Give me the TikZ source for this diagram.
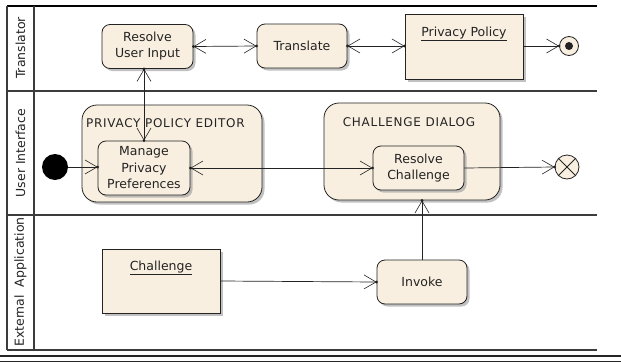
\documentclass[tikz,border=0pt]{standalone}
\usepackage{fontspec}
\setmainfont{DejaVu Sans}
\newfontfamily\capsfont[LetterSpace=6]{DejaVu Sans}
\usetikzlibrary{arrows.meta,shadows,calc}
\definecolor{umlfill}{RGB}{248,239,224}
\definecolor{umlline}{RGB}{35,35,35}
\definecolor{lanegray}{RGB}{60,60,60}
\begin{document}
\begin{tikzpicture}[x=1pt,y=-1pt,
  font=\fontsize{12.5}{16}\selectfont,
  every node/.style={text=umlline},
  shade/.style={drop shadow={shadow xshift=2.5pt,shadow yshift=-2.5pt,fill=black!35,opacity=0.7}},
  action/.style={draw=umlline,line width=0.8pt,fill=umlfill,rounded corners=8pt,
    shade,align=center,inner sep=0pt,minimum width=91pt,minimum height=44pt},
  container/.style={draw=umlline,line width=0.8pt,fill=umlfill,rounded corners=15pt,
    shade,inner sep=0pt},
  objbox/.style={draw=umlline,line width=0.8pt,fill=umlfill,shade,inner sep=0pt,
    minimum width=118pt,minimum height=64pt},
  lane/.style={draw=lanegray,line width=1.3pt},
  lanelabel/.style={rotate=90,inner sep=0pt},
  flow/.style={draw=umlline,line width=0.7pt,
    -{Straight Barb[length=12pt,width=14pt,line width=0.6pt]}},
  bflow/.style={draw=umlline,line width=0.7pt,
    {Straight Barb[length=12pt,width=14pt,line width=0.6pt]}-{Straight Barb[length=12pt,width=14pt,line width=0.6pt]}},
  tipdot/.style={fill=umlline}
]
\useasboundingbox (0,0) rectangle (621,362);

% swimlane frame
\draw[draw=black,line width=1.5pt] (7,6) -- (597,6);
\draw[lane] (7,6) -- (7,350);
\draw[lane] (34,6) -- (34,350);
\draw[lane] (7,91) -- (597,91);
\draw[lane] (7,215) -- (597,215);
\draw[lane] (7,350) -- (597,350);
\draw[draw=black!85,line width=2.5pt] (0,356) -- (621,356);
\draw[draw=black!85,line width=1pt] (0,361) -- (621,361);

% lane titles
\node[lanelabel] (lt) at (20.5,48) {Translator};
\node[lanelabel] (lu) at (20.5,153) {User Interface};
\node[lanelabel] (le) at (20.5,282) {External\ \ Application};

% structured activities
\node[container,minimum width=180pt,minimum height=97pt] (ppe) at (172,153.5) {};
\node[anchor=west,inner sep=0pt,font=\capsfont\fontsize{12}{14}\selectfont] (ppelabel) at (86,123) {PRIVACY POLICY EDITOR};
\node[container,minimum width=176pt,minimum height=97pt] (cd) at (412,151.5) {};
\node[inner sep=0pt,font=\capsfont\fontsize{12}{14}\selectfont] (cdlabel) at (409,122) {CHALLENGE DIALOG};

% Translator lane
\node[action] (rui) at (147.5,46.5) {Resolve\\User Input};
\node[action,minimum width=90pt] (tr) at (302,46) {Translate};
\node[objbox,minimum height=65pt] (pp) at (464,46.5) {};
\node[inner sep=0pt] (pplabel) at (464,34) {\underline{Privacy Policy}};
\node[circle,draw=umlline,line width=0.8pt,fill=umlfill,minimum size=19pt,inner sep=0pt] (fin) at (569,46) {};
\fill[umlline] (fin.center) circle (4pt);

% User Interface lane
\node[circle,fill=black,minimum size=26pt,inner sep=0pt] (init) at (55,167) {};
\node[action,minimum width=92pt,minimum height=54pt,font=\fontsize{12.5}{16.5}\selectfont] (mpp) at (144,168) {Manage\\Privacy\\Preferences};
\node[action] (rc) at (418.5,168) {Resolve\\Challenge};
\node[circle,draw=umlline,line width=0.8pt,fill=umlfill,minimum size=24pt,inner sep=0pt] (ff) at (567,167) {};
\draw[umlline,line width=0.8pt] (ff.north east) -- (ff.south west);
\draw[umlline,line width=0.8pt] (ff.north west) -- (ff.south east);

% External Application lane
\node[objbox] (chal) at (161,281) {};
\node[inner sep=0pt] (challabel) at (161,268) {\underline{Challenge}};
\node[action,minimum width=90pt] (inv) at (422,282) {Invoke};

% control flows
\draw[bflow] (rui.east) -- (tr.west);
\fill[tipdot] (rui.east) circle (1.6pt);
\fill[tipdot] (tr.west) circle (1.6pt);
\draw[bflow] (tr.east) -- (tr.east -| pp.west);
\fill[tipdot] (tr.east) circle (1.6pt);
\fill[tipdot] (tr.east -| pp.west) circle (1.6pt);
\draw[flow] (pp.east |- fin.west) -- (fin.west);
\fill[tipdot] (fin.west) circle (1.6pt);

\draw[bflow] (mpp.north |- rui.south) -- (mpp.north);
\fill[tipdot] (mpp.north |- rui.south) circle (1.6pt);
\fill[tipdot] (mpp.north) circle (1.6pt);
\draw[flow] (init.east) -- (init.east -| mpp.west);
\fill[tipdot] (init.east -| mpp.west) circle (1.6pt);
\draw[bflow] (mpp.east) -- (rc.west);
\fill[tipdot] (mpp.east) circle (1.6pt);
\fill[tipdot] (rc.west) circle (1.6pt);
\draw[flow] (rc.east) -- (ff.west);
\fill[tipdot] (ff.west) circle (1.6pt);

\draw[flow] (chal.east) -- (inv.west);
\fill[tipdot] (inv.west) circle (1.6pt);
\draw[flow] (inv.north) -- (inv.north |- cd.south);
\fill[tipdot] (inv.north |- cd.south) circle (1.6pt);
\end{tikzpicture}
\end{document}
